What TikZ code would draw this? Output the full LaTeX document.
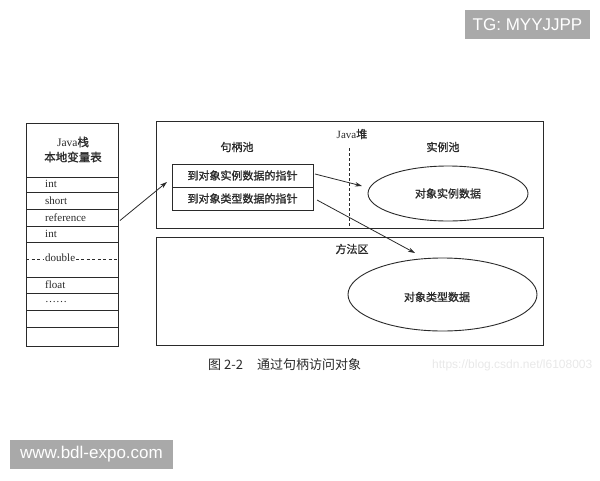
\documentclass[tikz,border=0pt]{standalone}
\usepackage{fontspec}
\setmainfont{Liberation Serif}
\newfontfamily\cjk{Noto Sans CJK SC}
\newfontfamily\cjkb{Noto Sans CJK SC}[FakeBold=1.2]
\newfontfamily\wsans{Liberation Sans}
\usetikzlibrary{shapes.geometric,arrows.meta}
\definecolor{ink}{HTML}{2A2A2A}
\definecolor{wmgray}{HTML}{A9A9A9}
\tikzset{
  box/.style={draw=ink, line width=0.9pt},
  cell/.style={draw=ink, line width=0.9pt, minimum width=92pt, inner sep=0pt, outer sep=0pt},
  celltext/.style={anchor=west, inner sep=1pt, font=\fontsize{11}{12}\selectfont, text=ink},
  zh/.style={font=\cjkb\fontsize{11}{13}\selectfont, text=ink, inner sep=1pt},
  ptr/.style={draw=ink, line width=0.9pt, minimum width=141pt, minimum height=23pt, inner sep=0pt, outer sep=0pt, font=\cjkb\fontsize{11}{13}\selectfont, text=ink},
  oval/.style={draw=ink, line width=0.9pt, ellipse, inner sep=0pt, font=\cjkb\fontsize{11}{13}\selectfont, text=ink},
  arr/.style={draw=ink, line width=0.8pt, -{Stealth[length=7pt,width=4.5pt]}},
  tag/.style={fill=wmgray, text=white, font=\wsans\fontsize{17}{20}\selectfont, inner sep=0pt, minimum height=29pt}
}
\begin{document}
\begin{tikzpicture}[x=1pt,y=-1pt]
\useasboundingbox (0,0) rectangle (600,480);
% stack table
\node[cell, minimum height=54pt] (hdr) at (72,150) {};
\node[font=\fontsize{11.5}{12}\selectfont, text=ink, inner sep=0pt] (h1) at (73,142) {Java{\cjkb 栈}};
\node[zh, font=\cjkb\fontsize{11.5}{13}\selectfont] (h2) at (73,157) {本地变量表};
\node[cell, minimum height=15pt] (c1) at (72,184.5) {};
\node[cell, minimum height=17pt] (c2) at (72,200.5) {};
\node[cell, minimum height=17pt] (c3) at (72,217.5) {};
\node[cell, minimum height=16pt] (c4) at (72,234) {};
\node[cell, minimum height=35pt] (c5) at (72,259.5) {};
\node[cell, minimum height=16pt] (c6) at (72,285) {};
\node[cell, minimum height=17pt] (c7) at (72,301.5) {};
\node[cell, minimum height=17pt] (c8) at (72,318.5) {};
\node[cell, minimum height=19pt] (c9) at (72,336.5) {};
\draw[ink, line width=0.7pt, dash pattern=on 3pt off 2.5pt] (c5.west) -- (c5.east);
\node[celltext] (t1) at (44,184) {int};
\node[celltext] (t2) at (44,201) {short};
\node[celltext] (t3) at (44,218) {reference};
\node[celltext] (t4) at (44,234) {int};
\node[celltext, fill=white] (t5) at (44,258) {double};
\node[celltext] (t6) at (44,285) {float};
\node[celltext] (t7) at (44,302) {……};
% Java heap
\draw[box] (156,121) rectangle (543,228);
\node[font=\fontsize{11}{12}\selectfont, text=ink, inner sep=0pt] (heap) at (352,134) {Java{\cjkb 堆}};
\node[zh] (hpool) at (237,147) {句柄池};
\node[zh] (ipool) at (443,147) {实例池};
\draw[ink, line width=0.7pt, dash pattern=on 3pt off 2pt] (349,148) -- (349,228);
\node[ptr] (p1) at (242.5,175.5) {到对象实例数据的指针};
\node[ptr] (p2) at (242.5,198.5) {到对象类型数据的指针};
\node[oval, minimum width=160pt, minimum height=55pt] (inst) at (448,193.5) {对象实例数据};
% method area
\draw[box] (156,237) rectangle (543,345);
\node[zh] (marea) at (352,249) {方法区};
\node[oval, minimum width=189pt, minimum height=73pt] (type) at (442.5,294.5) {};
\node[zh] (typet) at (437,297) {对象类型数据};
% arrows
\coordinate (e1) at (167,182);
\coordinate (e2) at (362,186);
\coordinate (e3) at (415,253);
\draw[arr] ([xshift=2pt,yshift=-3pt]c3.east) -- (e1);
\draw[arr] ([xshift=2pt,yshift=1.5pt]p1.east) -- (e2);
\draw[arr] ([xshift=4pt,yshift=-1.5pt]p2.east) -- (e3);
% caption
\node[anchor=west, font=\cjk\fontsize{13}{15}\selectfont, text=ink, inner sep=0pt] (cap) at (208,365) {图 2-2\hspace{14pt}通过句柄访问对象};
\node[anchor=west, font=\wsans\fontsize{12}{14}\selectfont, text=black!9, inner sep=0pt] (url) at (432,365) {https://blog.csdn.net/l6108003};
% watermark tags
\node[tag, minimum width=125pt] (tg) at (527.5,24.5) {TG: MYYJJPP};
\node[tag, minimum width=163pt] (www) at (91.5,454.5) {www.bdl-expo.com};
\end{tikzpicture}
\end{document}
